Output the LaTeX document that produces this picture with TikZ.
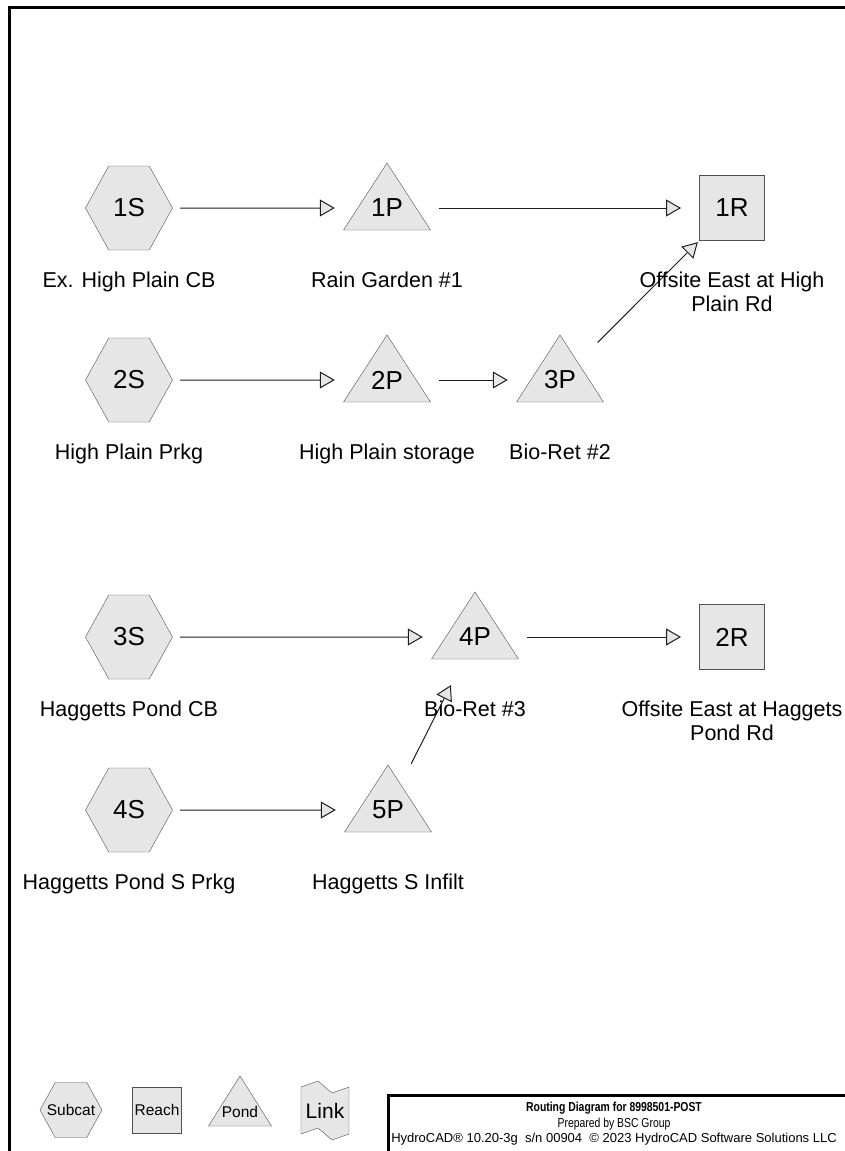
\documentclass[tikz,border=0pt]{standalone}
\usepackage{fontspec}
\setmainfont{Liberation Sans}
\newfontfamily\narrowfont[FakeStretch=0.8]{Liberation Sans}
\usetikzlibrary{shapes.symbols, arrows.meta, positioning, backgrounds}

\definecolor{shade}{RGB}{230,230,230}
\definecolor{edge}{RGB}{80,80,80}
\definecolor{wire}{RGB}{30,30,30}

\newcommand\idfont{\fontsize{26}{30}\selectfont}
\newcommand\lblfont{\fontsize{21.5}{23.5}\selectfont}
\newcommand\legfont{\fontsize{15.5}{18}\selectfont}

\begin{document}
\begin{tikzpicture}[
    x=1pt, y=-1pt,
    subcat/.style={signal, signal to=east and west, signal pointer angle=122,
                   draw=edge, fill=shade, minimum width=87pt, minimum height=84pt,
                   inner sep=0pt, font=\idfont},
    reach/.style={rectangle, draw=edge, fill=shade, minimum size=65pt,
                  outer xsep=11pt, inner sep=0pt, font=\idfont},
    pond/.style={rectangle, minimum width=89pt, minimum height=92pt,
                 inner sep=0pt, font=\idfont},
    outline/.style={draw=edge, fill=shade, line join=miter},
    lbl/.style={font=\lblfont, align=center, inner sep=0pt},
    flow/.style={-{Triangle[length=15pt, width=17pt, fill=shade]}, draw=wire,
                 line width=1pt, shorten <=7.5pt, shorten >=7.5pt},
    frame/.style={line width=3pt},
]
    \useasboundingbox (0,0) rectangle (844,1151);
    \draw[frame] (9,1170) |- (860,7);

    % nodes
    \node[subcat] (s1) at (129,208) {1S};
    \node[pond]   (p1) at (387,208) {1P};
    \node[reach]  (r1) at (732,208) {1R};
    \node[subcat] (s2) at (129,380) {2S};
    \node[pond]   (p2) at (387,380) {2P};
    \node[pond]   (p3) at (560,380) {3P};
    \node[subcat] (s3) at (129,637) {3S};
    \node[pond]   (p4) at (475,637) {4P};
    \node[reach]  (r2) at (732,637) {2R};
    \node[subcat] (s4) at (129,810) {4S};
    \node[pond]   (p5) at (388,810) {5P};

    % routing
    \draw[flow] (s1) -- (p1);
    \draw[flow] (p1) -- (r1);
    \draw[flow] (s2) -- (p2);
    \draw[flow] (p2) -- (p3);
    \draw[flow, shorten <=-10pt, shorten >=2pt] (p3) -- (r1);
    \draw[flow] (s3) -- (p4);
    \draw[flow] (p4) -- (r2);
    \draw[flow] (s4) -- (p5);
    \draw[flow, shorten <=0pt, shorten >=2pt] (p5) -- (p4);

    % labels
    \node[lbl, below=64pt of s1.center] (ls1) {Ex. High Plain CB};
    \node[lbl, below=64pt of p1.center] (lp1) {Rain Garden \#1};
    \node[lbl, below=64pt of r1.center] (lr1) {Offsite East at High\\Plain Rd};
    \node[lbl, below=64pt of s2.center] (ls2) {High Plain Prkg};
    \node[lbl, below=64pt of p2.center] (lp2) {High Plain storage};
    \node[lbl, below=64pt of p3.center] (lp3) {Bio-Ret \#2};
    \node[lbl, below=64pt of s3.center] (ls3) {Haggetts Pond CB};
    \node[lbl, below=64pt of p4.center] (lp4) {Bio-Ret \#3};
    \node[lbl, below=64pt of r2.center] (lr2) {Offsite East at Haggets\\Pond Rd};
    \node[lbl, below=64pt of s4.center] (ls4) {Haggetts Pond S Prkg};
    \node[lbl, below=64pt of p5.center] (lp5) {Haggetts S Infilt};

    % legend
    \node[subcat, minimum width=62pt, minimum height=55pt, font=\legfont] (kS) at (71,1110) {\makebox[0pt]{Subcat}};
    \node[reach, minimum width=49pt, minimum height=46pt, outer xsep=0.5pt, font=\legfont] (kR) at (157,1110) {Reach};
    \node[pond, minimum width=64pt, minimum height=74pt, font=\legfont] (kP) at (240,1112) {Pond};
    \node[pond, minimum width=50pt, minimum height=62pt, font=\fontsize{21}{24}\selectfont] (kL) at (325,1111) {Link};

    % pond and link outlines
    \begin{scope}[on background layer]
        \foreach \n in {p1,p2,p3,p4,p5}
            \filldraw[outline] ([yshift=45pt]\n.center) -- ([xshift=-43.5pt, yshift=-22pt]\n.center)
                -- ([xshift=43.5pt, yshift=-22pt]\n.center) -- cycle;
        \filldraw[outline] ([yshift=36pt]kP.center) -- ([xshift=-31.5pt, yshift=-14pt]kP.center)
            -- ([xshift=31.5pt, yshift=-14pt]kP.center) -- cycle;
        \filldraw[outline] ([xshift=-24pt, yshift=24pt]kL.center) -- ([xshift=-7pt, yshift=30pt]kL.center)
            -- ([xshift=7pt, yshift=18pt]kL.center) -- ([xshift=24pt, yshift=24pt]kL.center)
            -- ([xshift=24pt, yshift=-23pt]kL.center) -- ([xshift=7pt, yshift=-29pt]kL.center)
            -- ([xshift=-7pt, yshift=-17pt]kL.center) -- ([xshift=-24pt, yshift=-23pt]kL.center) -- cycle;
    \end{scope}

    % title block
    \draw[frame] (388,1170) |- (860,1095);
    \node[font=\narrowfont\fontsize{13}{15}\selectfont\bfseries, inner sep=0pt] (title) at (614,1108)
        {Routing Diagram for 8998501-POST};
    \node[font=\narrowfont\fontsize{13}{15}\selectfont, inner sep=0pt] (firm) at (614,1124)
        {Prepared by BSC Group};
    \node[font=\fontsize{13}{15}\selectfont, inner sep=0pt] (soft) at (614,1139)
        {HydroCAD® 10.20-3g\ \ s/n 00904\ \ © 2023 HydroCAD Software Solutions LLC};
\end{tikzpicture}
\end{document}
